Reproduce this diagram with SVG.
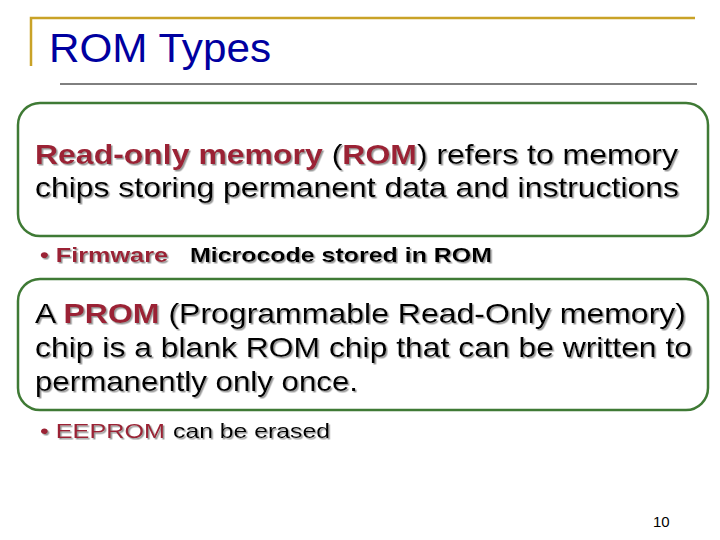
<svg xmlns="http://www.w3.org/2000/svg" width="720" height="540" viewBox="0 0 720 540">
<defs><filter id="sh" x="-5%" y="-20%" width="110%" height="140%"><feDropShadow dx="1.5" dy="1.5" stdDeviation="0.6" flood-color="#999"/></filter></defs>
<style>
text{font-family:"Liberation Sans",Arial,sans-serif}
.box{fill:#fff;stroke:#3f7a35;stroke-width:2.5}
.r{fill:#9b2335}
.t{font-size:28px;fill:#000;filter:url(#sh)}
.b{font-size:21px;filter:url(#sh)}
</style>
<rect width="720" height="540" fill="#fff"/>
<g id="title">
<path d="M31 66V18H695" fill="none" stroke="#c9a227" stroke-width="2.5"/>
<line x1="60" y1="84" x2="697" y2="84" stroke="#000" stroke-width="1"/>
<text x="49" y="62" font-size="41" fill="#0000a0" textLength="222" lengthAdjust="spacingAndGlyphs">ROM Types</text>
</g>
<g id="box1">
<rect class="box" x="18" y="103" width="690" height="133" rx="22"/>
<text class="t" x="35" y="164" textLength="643" lengthAdjust="spacingAndGlyphs"><tspan class="r" font-weight="bold">Read-only memory</tspan> (<tspan class="r" font-weight="bold">ROM</tspan>) refers to memory</text>
<text class="t" x="35" y="197" textLength="644" lengthAdjust="spacingAndGlyphs">chips storing permanent data and instructions</text>
</g>
<g id="bullet1">
<text class="b r" x="40" y="262" font-weight="bold" textLength="128" lengthAdjust="spacingAndGlyphs">• Firmware</text>
<text class="b" x="190" y="262" font-weight="bold" textLength="302" lengthAdjust="spacingAndGlyphs">Microcode stored in ROM</text>
</g>
<g id="box2">
<rect class="box" x="18" y="279" width="690" height="131" rx="22"/>
<text class="t" x="35" y="323" textLength="651" lengthAdjust="spacingAndGlyphs">A <tspan class="r" font-weight="bold">PROM</tspan> (Programmable Read-Only memory)</text>
<text class="t" x="35" y="357" textLength="657" lengthAdjust="spacingAndGlyphs">chip is a blank ROM chip that can be written to</text>
<text class="t" x="35" y="391" textLength="323" lengthAdjust="spacingAndGlyphs">permanently only once.</text>
</g>
<g id="bullet2">
<text class="b r" x="40" y="438" textLength="125" lengthAdjust="spacingAndGlyphs">• EEPROM</text>
<text class="b" x="173" y="438" textLength="157" lengthAdjust="spacingAndGlyphs">can be erased</text>
</g>
<text x="653" y="527" font-size="15" fill="#000">10</text>
</svg>
